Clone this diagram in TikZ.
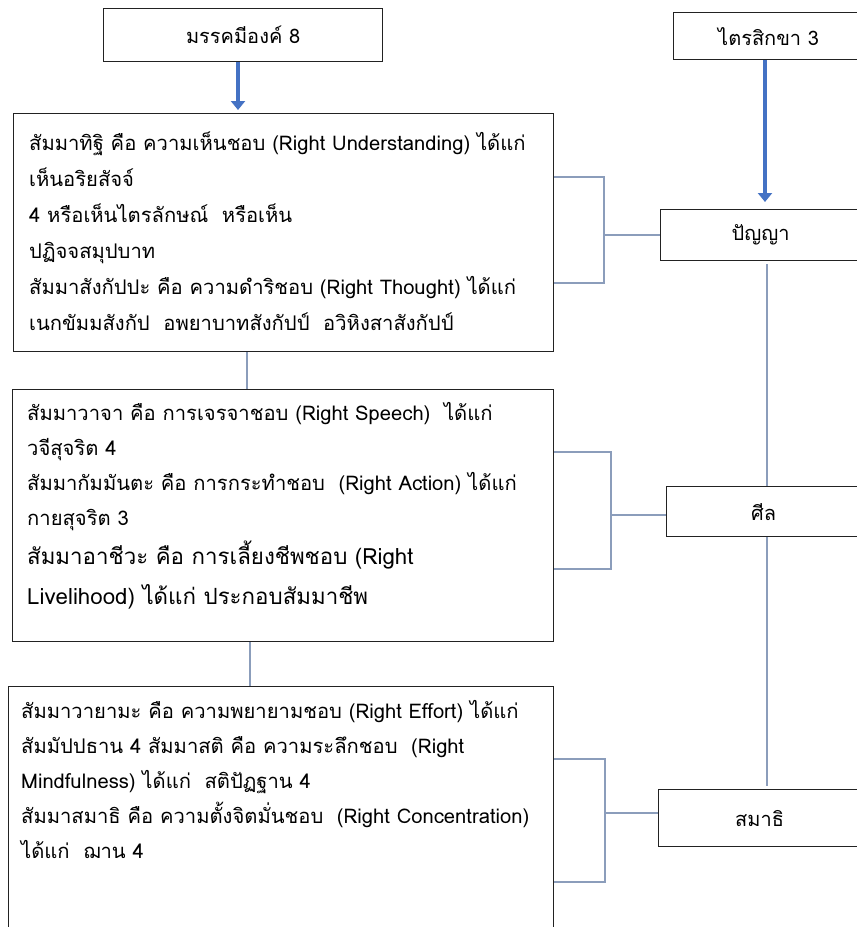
\documentclass[tikz,border=0pt]{standalone}
\usepackage{fontspec}
\newfontfamily\thaifont[Script=Thai]{Loma}
\usetikzlibrary{arrows.meta}
\definecolor{arrowblue}{HTML}{4472C4}
\definecolor{linkblue}{HTML}{8B9DBB}
\definecolor{boxline}{HTML}{222222}
\begin{document}
\begin{tikzpicture}[x=1pt,y=-1pt,
  box/.style={draw=boxline,line width=1.3pt,fill=white,inner sep=0pt,anchor=north west},
  titlebox/.style={box,font=\thaifont\fontsize{20}{24}\selectfont},
  txt/.style={anchor=north west,inner sep=0pt,align=left,font=\thaifont\fontsize{20.2}{36}\selectfont},
  txtb/.style={txt,font=\thaifont\fontsize{20.2}{35}\selectfont},
  bigtxt/.style={anchor=north west,inner sep=0pt,align=left,font=\thaifont\fontsize{22.3}{40}\selectfont},
  link/.style={draw=linkblue,line width=1.2pt},
  bluearrow/.style={draw=arrowblue,line width=4.5pt,-{Triangle[width=14pt,length=9pt]}}
]
\useasboundingbox (0,0) rectangle (857,927);
\clip (0,0) rectangle (857,927);
\fill[white] (0,0) rectangle (857,927);

% top boxes
\node[titlebox,minimum width=279pt,minimum height=53pt] (mag) at (103,8) {มรรคมีองค์ 8};
\node[titlebox,minimum width=190pt,minimum height=47pt] (tri) at (673,12) {ไตรสิกขา 3};

% left boxes
\node[box,minimum width=540pt,minimum height=238pt] (b1) at (13,113) {};
\node[box,minimum width=541pt,minimum height=252pt] (b2) at (12,389) {};
\node[box,minimum width=545pt,minimum height=260pt] (b3) at (8,686) {};

% right boxes
\node[titlebox,minimum width=200pt,minimum height=51pt] (pan) at (660,209) {ปัญญา};
\node[titlebox,minimum width=194pt,minimum height=50pt] (sil) at (666,486) {ศีล};
\node[titlebox,minimum width=202pt,minimum height=57pt] (sam) at (658,789) {สมาธิ};

% texts
\node[txt] (t1) at (29,132) {สัมมาทิฐิ คือ ความเห็นชอบ (Right Understanding) ได้แก่\\
เห็นอริยสัจจ์\\
4 หรือเห็นไตรลักษณ์ \ หรือเห็น\\
ปฏิจจสมุปบาท\\
สัมมาสังกัปปะ คือ ความดำริชอบ (Right Thought) ได้แก่\\
เนกขัมมสังกัป \ อพยาบาทสังกัปป์ \ อวิหิงสาสังกัปป์};

\node[txtb] (t2) at (27,402) {สัมมาวาจา คือ การเจรจาชอบ (Right Speech) \ ได้แก่\\
วจีสุจริต 4\\
สัมมากัมมันตะ คือ การกระทำชอบ \ (Right Action) ได้แก่\\
กายสุจริต 3};
\node[bigtxt] (t2b) at (27,541) {สัมมาอาชีวะ คือ การเลี้ยงชีพชอบ (Right\\
Livelihood) ได้แก่ ประกอบสัมมาชีพ};

\node[txtb] (t3) at (21,700) {สัมมาวายามะ คือ ความพยายามชอบ (Right Effort) ได้แก่\\
สัมมัปปธาน 4 สัมมาสติ คือ ความระลึกชอบ \ (Right\\
Mindfulness) ได้แก่ \ สติปัฏฐาน 4\\
สัมมาสมาธิ คือ ความตั้งจิตมั่นชอบ \ (Right Concentration)\\
ได้แก่ \ ฌาน 4};

% arrows
\draw[bluearrow] (mag.south -| 238,0) -- ([yshift=3pt]b1.north -| 238,0);
\draw[bluearrow] (tri.south -| 765,0) -- ([yshift=7pt]pan.north -| 765,0);

% vertical links
\draw[link] (b1.south -| 247,0) -- (b2.north -| 247,0);
\draw[link] (b2.south -| 250,0) -- (b3.north -| 250,0);
\draw[link] ([yshift=-3pt]pan.south -| 767,0) -- (sil.north -| 767,0);
\draw[link] (sil.south -| 767,0) -- ([yshift=3pt]sam.north -| 767,0);

% brackets
\coordinate (k1) at (604,235);
\draw[link] (b1.east |- 0,177) -| (k1) |- (b1.east |- 0,283);
\draw[link] (k1) -- (pan.west |- k1);
\coordinate (k2) at (611,515);
\draw[link] (b2.east |- 0,452) -| (k2) |- (b2.east |- 0,569);
\draw[link] (k2) -- (sil.west |- k2);
\coordinate (k3) at (605,813);
\draw[link] (b3.east |- 0,759) -| (k3) |- (b3.east |- 0,882);
\draw[link] (k3) -- (sam.west |- k3);
\end{tikzpicture}
\end{document}
